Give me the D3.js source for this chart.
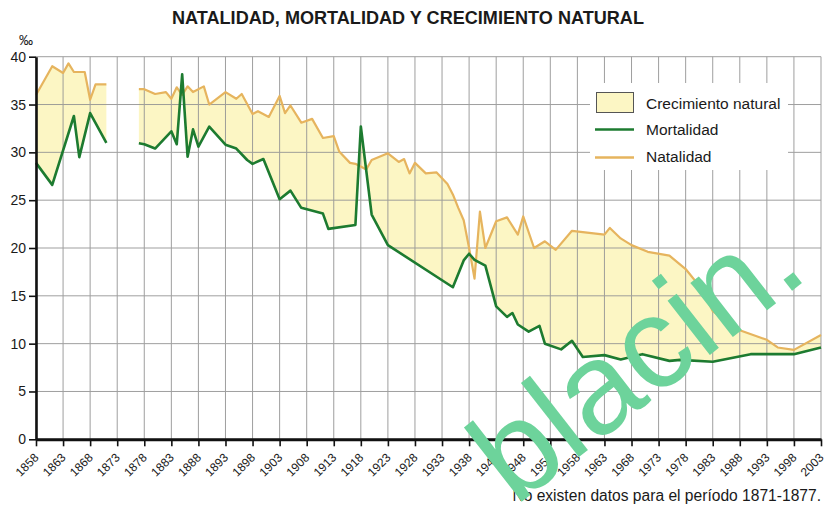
<!DOCTYPE html>
<html lang="es">
<head>
<meta charset="utf-8">
<script src="https://cdn.jsdelivr.net/npm/d3@7"></script>
<style>
  html, body { margin: 0; padding: 0; background: #fff; }
  svg { display: block; }
  text { font-family: "Liberation Sans", Arial, Helvetica, sans-serif; fill: #1a1a1a; }
</style>
</head>
<body>
<svg id="chart" width="835" height="506"></svg>
<script>
// Tasas por mil habitantes: [año, valor]
// Tramo 1858-1871
const natalidadA = [
  [1858, 36.0], [1861, 39.0], [1863, 38.3], [1864, 39.3], [1865, 38.4],
  [1867, 38.4], [1868, 35.5], [1869, 37.1], [1871, 37.1]
];
const mortalidadA = [
  [1858, 28.9], [1861, 26.6], [1865, 33.8], [1866, 29.5], [1868, 34.1], [1871, 31.0]
];
// Tramo 1877-2003
const natalidadB = [
  [1877, 36.6], [1878, 36.6], [1880, 36.1], [1882, 36.3], [1883, 35.6],
  [1884, 36.8], [1885, 36.0], [1886, 36.9], [1887, 36.3], [1889, 36.9],
  [1890, 35.0], [1893, 36.3], [1895, 35.6], [1896, 36.1], [1898, 34.0],
  [1899, 34.3], [1901, 33.7], [1903, 35.9], [1904, 34.1], [1905, 34.9],
  [1907, 33.1], [1909, 33.5], [1911, 31.5], [1913, 31.7], [1914, 30.1],
  [1916, 28.9], [1917, 28.8], [1919, 28.2], [1920, 29.2], [1923, 29.9],
  [1925, 29.0], [1926, 29.3], [1927, 27.8], [1928, 28.9], [1930, 27.8],
  [1932, 27.9], [1933, 27.3], [1934, 26.7], [1935, 25.6], [1936, 24.2],
  [1937, 22.9], [1938, 20.0], [1939, 16.8], [1940, 23.8], [1941, 20.0],
  [1943, 22.8], [1945, 23.2], [1947, 21.4], [1948, 23.3], [1950, 20.0],
  [1952, 20.7], [1954, 19.8], [1957, 21.8], [1963, 21.4], [1964, 22.1],
  [1966, 21.0], [1968, 20.3], [1971, 19.6], [1975, 19.2], [1978, 17.8],
  [1981, 15.7], [1983, 13.4], [1988, 11.4], [1993, 10.4], [1995, 9.6],
  [1998, 9.35], [2003, 10.9]
];
const mortalidadB = [
  [1877, 30.95], [1878, 30.85], [1880, 30.4], [1883, 32.2], [1884, 30.85],
  [1885, 38.15], [1886, 29.55], [1887, 32.4], [1888, 30.6], [1890, 32.7],
  [1893, 30.8], [1895, 30.4], [1897, 29.2], [1898, 28.8], [1900, 29.3],
  [1903, 25.1], [1905, 26.0], [1907, 24.2], [1911, 23.6], [1912, 22.0],
  [1917, 22.4], [1918, 32.7], [1920, 23.5], [1923, 20.3], [1935, 15.9],
  [1937, 18.7], [1938, 19.4], [1939, 18.75], [1941, 18.15], [1943, 13.9],
  [1945, 12.8], [1946, 13.2], [1947, 12.0], [1949, 11.25], [1951, 11.85],
  [1952, 10.0], [1955, 9.4], [1957, 10.3], [1959, 8.6], [1963, 8.8],
  [1966, 8.35], [1970, 8.9], [1975, 8.2], [1977, 8.3], [1983, 8.1],
  [1990, 8.9], [1998, 8.9], [2003, 9.6]
];

const yearTicks = [1858, 1863, 1868, 1873, 1878, 1883, 1888, 1893, 1898, 1903,
  1908, 1913, 1918, 1923, 1928, 1933, 1938, 1943, 1948, 1953, 1958, 1963,
  1968, 1973, 1978, 1983, 1988, 1993, 1998, 2003];
const rateTicks = [0, 5, 10, 15, 20, 25, 30, 35, 40];

const legendItems = ["Crecimiento natural", "Mortalidad", "Natalidad"];

const COLOR_FILL = "#fcf6c4";
const COLOR_BIRTH = "#e6b45e";
const COLOR_DEATH = "#1d7b30";
const COLOR_GRID = "#959595";

const svg = d3.select("#chart");
const x = d3.scaleLinear().domain([1858, 2003]).range([36, 821]);
const y = d3.scaleLinear().domain([0, 40]).range([439.3, 56.7]);

const line = d3.line().x(d => x(d[0])).y(d => y(d[1]));

// Área de crecimiento natural entre natalidad y mortalidad
const areas = svg.append("g");
[[natalidadA, mortalidadA], [natalidadB, mortalidadB]].forEach(([n, m]) => {
  areas.append("path")
    .attr("d", line(n.concat(m.slice().reverse())) + "Z")
    .attr("fill", COLOR_FILL)
    .attr("stroke", "none");
});

// Cuadrícula
const grid = svg.append("g").attr("stroke", COLOR_GRID).attr("stroke-width", 1).attr("opacity", 0.9);
grid.selectAll("line.v").data(yearTicks).join("line")
  .attr("class", "v")
  .attr("x1", d => x(d)).attr("x2", d => x(d))
  .attr("y1", y(40)).attr("y2", y(0));
grid.selectAll("line.h").data(rateTicks).join("line")
  .attr("class", "h")
  .attr("x1", x(1858)).attr("x2", x(2003))
  .attr("y1", d => y(d)).attr("y2", d => y(d));

// Series
const series = svg.append("g").attr("fill", "none").attr("stroke-linejoin", "round");
[natalidadA, natalidadB].forEach(s => {
  series.append("path").attr("d", line(s))
    .attr("stroke", COLOR_BIRTH).attr("stroke-width", 2.2);
});
[mortalidadA, mortalidadB].forEach(s => {
  series.append("path").attr("d", line(s))
    .attr("stroke", COLOR_DEATH).attr("stroke-width", 2.6);
});

// Ejes
const yAxis = svg.append("g")
  .attr("transform", `translate(${x(1858)},0)`)
  .call(d3.axisLeft(y).tickValues(rateTicks).tickSize(7).tickSizeOuter(0).tickPadding(3));
yAxis.select(".domain").attr("stroke", "#111").attr("stroke-width", 2.6);
yAxis.selectAll(".tick line").attr("stroke", "#111").attr("stroke-width", 1.6);
yAxis.selectAll(".tick text").attr("font-size", 14)
  .attr("font-family", "'Liberation Sans', Arial, sans-serif");

const xAxis = svg.append("g")
  .attr("transform", `translate(0,${y(0)})`)
  .call(d3.axisBottom(x).tickValues(yearTicks).tickFormat(d3.format("d"))
    .tickSize(7).tickSizeOuter(0));
xAxis.select(".domain").attr("stroke", "#111").attr("stroke-width", 3);
xAxis.selectAll(".tick line").attr("stroke", "#111").attr("stroke-width", 1.6);
xAxis.selectAll(".tick text")
  .attr("font-size", 12)
  .attr("font-family", "'Liberation Sans', Arial, sans-serif")
  .attr("text-anchor", "end")
  .attr("dy", null)
  .attr("y", null)
  .attr("transform", "translate(3,19) rotate(-45)");

svg.selectAll(".tick text").style("fill", "#1a1a1a");

// Unidad
svg.append("text").attr("x", 19).attr("y", 45).attr("font-size", 14).text("‰");

// Título
svg.append("text")
  .attr("x", 408).attr("y", 24)
  .attr("text-anchor", "middle")
  .attr("font-family", "'Liberation Sans Narrow', 'Liberation Sans', Arial, sans-serif")
  .attr("font-weight", "bold")
  .attr("font-size", 18.5)
  .attr("textLength", 472)
  .attr("lengthAdjust", "spacingAndGlyphs")
  .text("NATALIDAD, MORTALIDAD Y CRECIMIENTO NATURAL");

// Leyenda
const lg = svg.append("g");
lg.append("rect").attr("x", 590).attr("y", 83).attr("width", 198).attr("height", 87).attr("fill", "#fff");
lg.append("rect").attr("x", 596.5).attr("y", 92.5).attr("width", 37).attr("height", 20)
  .attr("fill", COLOR_FILL).attr("stroke", "#555").attr("stroke-width", 1);
lg.append("line").attr("x1", 595).attr("x2", 634).attr("y1", 129.5).attr("y2", 129.5)
  .attr("stroke", COLOR_DEATH).attr("stroke-width", 2.4);
lg.append("line").attr("x1", 595).attr("x2", 634).attr("y1", 157.5).attr("y2", 157.5)
  .attr("stroke", COLOR_BIRTH).attr("stroke-width", 2.4);
lg.selectAll("text").data(legendItems).join("text")
  .attr("x", 646).attr("y", (d, i) => [109, 135, 162][i])
  .attr("font-size", 15.5).text(d => d);

// Nota
svg.append("text").attr("x", 821).attr("y", 501).attr("text-anchor", "end")
  .attr("font-size", 15.6).text("No existen datos para el período 1871-1877.");

// Marca de agua
svg.append("text")
  .attr("transform", "translate(515,507) rotate(-38)")
  .attr("font-family", "Lato, 'Open Sans', sans-serif")
  .attr("font-size", 130)
  .style("fill", "#6dd39b")
  .text("blacin.");
</script>
</body>
</html>
